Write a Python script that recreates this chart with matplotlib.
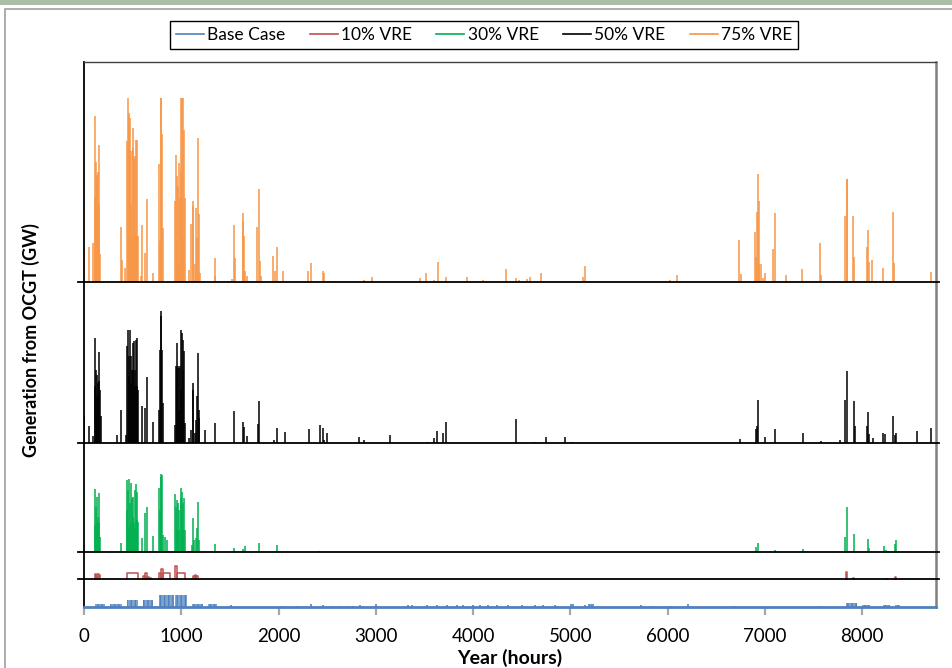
import numpy as np
import matplotlib.pyplot as plt
from matplotlib.lines import Line2D
from matplotlib.patches import Rectangle

plt.rcParams['font.family'] = ['Lato', 'DejaVu Sans']

HOURS = 8760

# values, relative units (no scale shown on the y axis)
# 75% VRE
vre75_hours = [0, 48, 96, 110, 116, 123, 130, 137, 144, 151, 158, 165,
               377, 390, 425, 439, 452, 459, 466, 473, 480, 487, 494, 500, 507, 514,
               521, 528, 535, 541, 548, 555, 582, 596, 630, 644, 713,
               774, 781, 788, 795, 802, 809,
               939, 946, 952, 959, 966, 973, 980, 987, 993, 1000, 1007, 1014, 1021, 1028, 1035,
               1076, 1097, 1117, 1124, 1138, 1152, 1165, 1172, 1186, 1193,
               1343, 1350, 1521, 1542, 1556, 1631, 1638, 1645, 1659, 1679,
               1782, 1796, 1809, 1823, 1946, 1967, 1981, 2049,
               2306, 2337, 2454, 2467, 2543, 2878, 2960, 3457, 3512, 3598, 3636, 3718,
               3934, 4105, 4341, 4438, 4472, 4558, 4582, 4702, 5133, 5154, 5181, 6021, 6093,
               6727, 6737, 6751, 6901, 6908, 6922, 6929, 6936, 6942, 6956, 6977, 7004,
               7086, 7100, 7220, 7384, 7566, 7576, 7826, 7840, 7847, 7908, 7919,
               8046, 8056, 8070, 8107, 8213, 8323, 8330, 8433, 8704]
vre75_gen = [34, 35, 39, 85, 166, 120, 107, 100, 110, 137, 78, 28,
             55, 22, 14, 141, 184, 157, 169, 164, 78, 131, 46, 134, 154, 124,
             48, 126, 142, 46, 142, 46, 6, 57, 29, 83, 9,
             118, 41, 184, 184, 148, 54,
             81, 127, 41, 106, 96, 15, 119, 84, 111, 184, 184, 46, 184, 152, 84,
             12, 58, 76, 81, 18, 74, 44, 144, 68, 9,
             24, 6, 3, 57, 24, 69, 61, 46, 11, 6,
             55, 93, 21, 6, 26, 11, 35, 11,
             11, 19, 11, 9, 1.3, 2, 5, 4, 9, 2, 20, 5,
             5, 2.3, 13, 4, 2, 3, 5, 9, 5, 16, 1, 2, 7,
             1, 42, 8, 50, 25, 70, 108, 81, 18, 18, 4, 9,
             33, 69, 7, 13, 39, 7, 66, 103, 103, 66, 25,
             35, 52, 20, 22, 14, 70, 19, 1, 10]

# 50% VRE
vre50_hours = [0, 48, 96, 110, 116, 123, 130, 137, 144, 151, 158, 165, 171,
               336, 377, 432, 439, 452, 459, 466, 473, 480, 487, 494, 500, 507, 514,
               521, 528, 535, 541, 548, 555, 596, 630, 644, 713,
               774, 781, 788, 795, 802, 809,
               939, 946, 952, 959, 966, 973, 980, 987, 993, 1000, 1007, 1014, 1021, 1028, 1035,
               1076, 1097, 1117, 1124, 1138, 1152, 1158, 1172, 1179, 1186, 1240,
               1343, 1542, 1631, 1645, 1672, 1789, 1796, 1953, 1987, 2062,
               2310, 2426, 2454, 2467, 2495, 2830, 2878, 3142, 3529, 3598, 3632, 3694, 3718,
               4441, 4629, 4749, 4945, 5016,
               6744, 6905, 6922, 6932, 7004, 7100, 7388, 7576, 7768, 7827, 7840, 7912, 7926,
               8046, 8056, 8070, 8108, 8214, 8238, 8323, 8334, 8347, 8560, 8707]
vre50_gen = [27, 17, 7, 57, 105, 73, 68, 47, 60, 91, 62, 53, 27,
             8, 33, 8, 97, 113, 87, 67, 113, 60, 87, 73, 100, 73, 102,
             57, 73, 103, 57, 105, 53, 37, 35, 66, 21,
             33, 93, 127, 132, 93, 40,
             18, 77, 100, 75, 77, 33, 75, 77, 53, 113, 110, 103, 73, 92, 20,
             5, 13, 60, 53, 10, 23, 47, 90, 33, 25, 13,
             20, 32, 21, 16, 7, 19, 42, 3, 15, 11,
             14, 18, 15, 3, 10, 6, 3, 8, 1, 5, 12, 10, 21,
             24, 1, 6, 6, 1,
             4, 14, 17, 43, 6, 14, 10, 2, 3, 43, 72, 42, 17,
             17, 31, 9, 5, 10, 9, 27, 8, 10, 12, 15]

# 30% VRE
vre30_hours = [0, 110, 116, 123, 130, 137, 144, 151, 158, 165,
               377, 439, 446, 452, 459, 466, 473, 480, 487, 494, 500, 507, 514,
               521, 528, 535, 541, 548, 555, 596, 630, 644, 713,
               774, 781, 788, 795, 802, 809, 829, 850,
               939, 946, 952, 959, 966, 973, 980, 993, 1000, 1007, 1014, 1021, 1028, 1035,
               1110, 1124, 1131, 1152, 1158, 1172, 1186,
               1343, 1542, 1631, 1652, 1796, 1987, 2420,
               6905, 6932, 7100, 7388, 7827, 7840, 7912, 8056, 8070, 8224, 8241, 8334, 8347]
vre30_gen = [7, 27, 63, 45, 29, 55, 35, 59, 29, 15,
             9, 42, 72, 62, 73, 24, 49, 69, 29, 54, 35, 55, 30,
             62, 24, 68, 32, 60, 30, 14, 39, 45, 16,
             64, 42, 78, 75, 77, 17, 15, 12,
             58, 45, 52, 22, 49, 22, 42, 54, 64, 60, 49, 22, 54, 22,
             7, 34, 12, 14, 24, 50, 12,
             8, 4, 3, 6, 9, 7, 1,
             5, 9, 2, 3, 15, 45, 18, 13, 4, 6, 2, 8, 12]

# 10% VRE, flat runs: start hour, end hour, level
vre10_start = [108, 122, 135, 150, 439, 610, 625, 650, 678, 774, 788, 816,
               939, 952, 1124, 1140, 1150, 7834, 7909, 8249, 8341]
vre10_end = [122, 135, 150, 165, 555, 625, 650, 665, 690, 788, 816, 884,
             952, 1035, 1140, 1150, 1172, 7847, 7916, 8254, 8348]
vre10_gen = [5, 3, 5, 4, 6.3, 3, 6, 2, 1, 6.3, 10, 6.3,
             13, 6.3, 3, 4, 3, 7, 1.5, 0.4, 2]

# Base case: dense blocks and single hours
base_block_start = [113, 267, 439, 603, 771, 939, 1114, 1278, 7833, 8004, 8217, 8337]
base_block_end = [216, 387, 559, 706, 929, 1062, 1227, 1371, 7944, 8080, 8286, 8389]
base_block_gen = [3.3, 3, 7.3, 7, 12, 12, 3.3, 3.3, 4, 2.5, 2.5, 2.5]
base_hours = [1511, 2032, 2193, 2330, 2460, 2556, 2624, 2700, 2768, 2837, 2871, 3002,
              3334, 3368, 3523, 3626, 3728, 3831, 3899, 4002, 4071, 4157, 4243, 4362,
              4500, 4636, 4715, 4839, 4860, 5003, 5023, 5147, 5195, 5209, 5236, 5723,
              5846, 6034, 6206, 6682, 7576]
base_gen = [2, 1, 1.5, 3, 2, 1.5, 1.5, 1.5, 1.5, 2, 1.5, 3,
            2.5, 2, 2, 2.5, 2, 2.5, 2, 2.5, 2, 2.5, 2, 2,
            2.5, 2, 2.5, 2.5, 1, 3, 3, 2, 3, 3, 3, 2.5,
            1.5, 0.7, 3, 1.5, 0.7]

labels = ['Base Case', '10% VRE', '30% VRE', '50% VRE', '75% VRE']
colors = ['#4F81BD', '#C0504D', '#00B050', '#000000', '#F79646']
# stacking offsets of each band
offsets = [0, 28, 55, 164, 325]
top = 545

fig = plt.figure(figsize=(9.53, 6.68), dpi=100)
ax = fig.add_axes([84/953, 61/668, 852/953, 545/668])

# base case
ax.bar(base_block_start, base_block_gen, width=np.array(base_block_end) - np.array(base_block_start),
       align='edge', bottom=offsets[0], facecolor='#7fa3cf', edgecolor=colors[0],
       hatch='||||', linewidth=0)
ax.vlines(base_hours, offsets[0], offsets[0] + np.array(base_gen), color=colors[0], lw=1.2)

# 10% VRE
for s, e, g in zip(vre10_start, vre10_end, vre10_gen):
    ax.plot([s, s, e, e], [offsets[1], offsets[1] + g, offsets[1] + g, offsets[1]],
            color=colors[1], lw=1.1)

# 30/50/75
for hrs, gen, off, c in [(vre30_hours, vre30_gen, offsets[2], colors[2]),
                         (vre50_hours, vre50_gen, offsets[3], colors[3]),
                         (vre75_hours, vre75_gen, offsets[4], colors[4])]:
    ax.vlines(hrs, off, off + np.array(gen), color=c, lw=1.1)

# band separators
for y in offsets[1:]:
    ax.plot([-0.007, 1.004], [y, y], color='black', lw=1.3,
            transform=ax.get_yaxis_transform(), clip_on=False, zorder=3)
ax.plot([0, 1], [0, 0], color=colors[0], lw=2, transform=ax.get_yaxis_transform(),
        clip_on=False, zorder=4)

ax.set_xlim(0, HOURS)
ax.set_ylim(0, top)
ax.set_xticks(np.arange(0, 9000, 1000))
ax.set_yticks([])
ax.tick_params(axis='x', direction='out', length=6, width=1.6, color='#a6a6a6',
               labelsize=13.5, pad=9)
ax.spines['bottom'].set_visible(False)
ax.spines['left'].set_linewidth(1.3)
ax.spines['top'].set_color('#404040')
ax.spines['top'].set_linewidth(1)
ax.spines['right'].set_color('#808080')
ax.spines['right'].set_linewidth(1.8)

fig.text(510/953, 1 - 658/668, 'Year (hours)', ha='center', va='center',
         fontsize=14, fontweight='bold')
fig.text(31/953, 1 - 340/668, 'Generation from OCGT (GW)', ha='center', va='center',
         rotation=90, fontsize=13, fontweight='bold')

handles = [Line2D([0], [0], color=c, lw=1.2) for c in colors]
leg = fig.legend(handles, labels, loc='center', bbox_to_anchor=(0.508, 1 - 35/668), ncol=5,
                 fancybox=False, edgecolor='black', framealpha=1, fontsize=12.5,
                 handlelength=1.6, handletextpad=0.2, columnspacing=1.4, borderpad=0.35)
leg.get_frame().set_linewidth(1)

# chart frame and top band
fig.add_artist(Rectangle((0, 1 - 5/668), 1, 5/668, transform=fig.transFigure,
                         color='#aabfa6', lw=0))
fig.add_artist(Rectangle((5/953, -0.1), 1.1, 1.1 - 9/668, transform=fig.transFigure,
                         fill=False, edgecolor='#a0a0a0', lw=1.2))

fig.savefig('out.png', dpi=100)
